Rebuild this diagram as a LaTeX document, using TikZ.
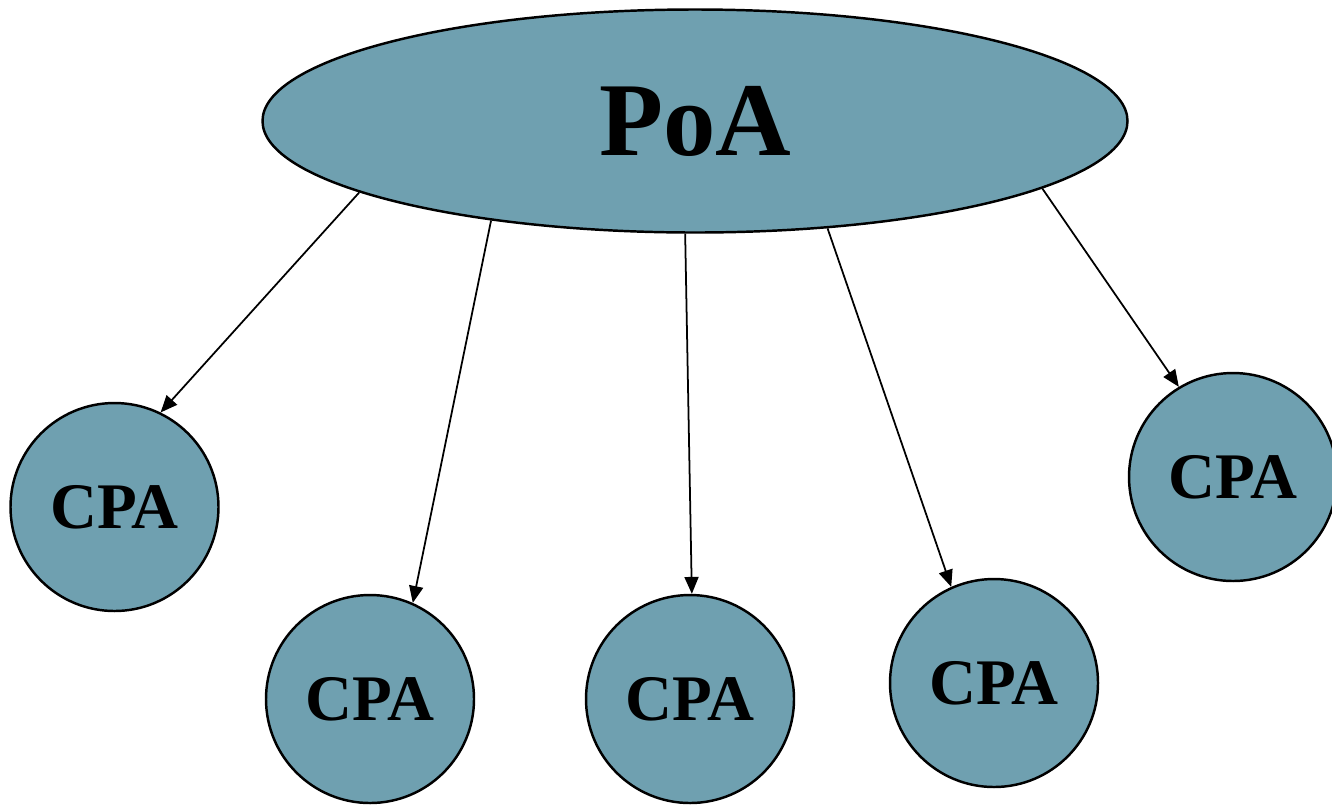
\documentclass[tikz,border=0pt]{standalone}
\usepackage{fontspec}
\setmainfont{Liberation Serif}
\usepackage{tikz}
\usetikzlibrary{shapes.geometric,arrows.meta,positioning,calc}
\usepackage{xcolor}
\definecolor{poablue}{RGB}{111,160,176}

\begin{document}
\begin{tikzpicture}[
  poanode/.style={ellipse, draw=black, line width=0.7pt, fill=poablue, inner sep=0pt,
    minimum width=8.65cm, minimum height=2.23cm, font=\fontsize{29.8}{34}\selectfont\bfseries},
  cpanode/.style={circle, draw=black, line width=0.7pt, fill=poablue, inner sep=0pt,
    minimum size=2.08cm, font=\fontsize{18.5}{22}\selectfont\bfseries},
  linkarrow/.style={-{Triangle[length=4.8pt,width=4pt]}, line width=0.5pt, black}
]
\useasboundingbox (0,0) rectangle (13.32,8.04);

% === TOP: PoA ===
\node[poanode] (poa) at (6.95, 6.83) {PoA};

% === BOTTOM: CPA circles ===
\node[cpanode] (cpa1) at (1.145, 2.97) {CPA};
\node[cpanode] (cpa2) at (3.70, 1.05) {CPA};
\node[cpanode] (cpa3) at (6.90, 1.05) {CPA};
\node[cpanode] (cpa4) at (9.94, 1.21) {CPA};
\node[cpanode] (cpa5) at (12.33, 3.27) {CPA};

% === Links ===
\draw[linkarrow] (poa.192.1) -- (cpa1.64.4);
\draw[linkarrow] (poa.206.3) -- (cpa2.66.3);
\draw[linkarrow] (poa.265.4) -- (cpa3.89);
\draw[linkarrow] (poa.321.5) -- (cpa4.114.7);
\draw[linkarrow] (poa.349.1) -- (cpa5.121.6);

\end{tikzpicture}
\end{document}
